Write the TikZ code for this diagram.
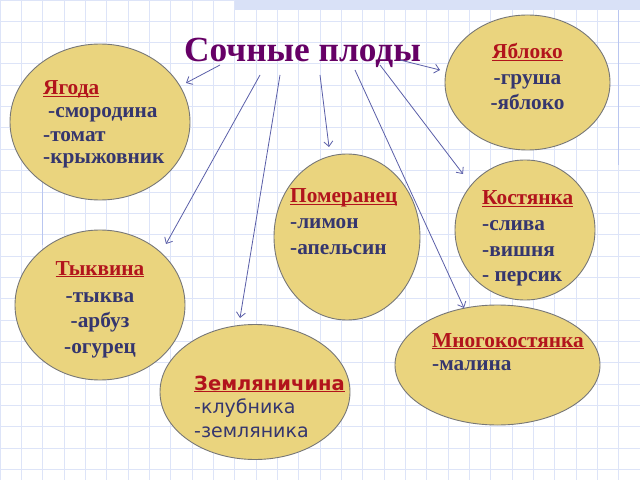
\documentclass[tikz,border=0pt]{standalone}
\usepackage{fontspec}
\setmainfont{Liberation Serif}
\newfontfamily\sansfam{DejaVu Sans}
\usetikzlibrary{shapes.geometric,arrows.meta}
\definecolor{ellfill}{HTML}{EAD47E}
\definecolor{ellline}{HTML}{777777}
\definecolor{navy}{HTML}{35366E}
\definecolor{hdred}{HTML}{B2141C}
\definecolor{titlec}{HTML}{660066}
\definecolor{gridc}{HTML}{DDE4F8}
\definecolor{gridd}{HTML}{B9C6F0}
\definecolor{stripc}{HTML}{D9E1F7}
\definecolor{arrc}{HTML}{5A5EA8}
\newcommand{\hdline}[1]{\setbox0\hbox{#1}\rlap{\rule[-2.2bp]{\wd0}{1.3bp}}\box0}
\tikzset{
  fruit/.style={ellipse, draw=ellline, fill=ellfill, line width=0.9bp, inner sep=0pt},
  bodyt/.style={font=\bfseries\fontsize{21.3bp}{25bp}\selectfont, text=navy, inner sep=0pt, anchor=base west},
  headt/.style={bodyt, text=hdred},
  bodyc/.style={bodyt, anchor=base},
  headc/.style={headt, anchor=base},
  sbody/.style={font=\sansfam\fontsize{19bp}{22bp}\selectfont, text=navy, inner sep=0pt, anchor=base west},
  shead/.style={sbody, font=\sansfam\bfseries\fontsize{19.5bp}{22bp}\selectfont, text=hdred},
  link/.style={draw=arrc, line width=0.8bp, -{Straight Barb[length=5bp,width=9bp]}},
}
\begin{document}
\begin{tikzpicture}[x=1bp,y=-1bp]
\useasboundingbox (0,0) rectangle (640,480);
\fill[white] (0,0) rectangle (640,480);
% grid paper
\draw[gridc, line width=1bp, step=21.3333bp] (0,0) grid (640,480);
\draw[gridd, line width=1.5bp] (42.67,165) -- (42.67,245);
\draw[gridd, line width=1.5bp] (618.67,0) -- (618.67,165);
\fill[stripc] (235,0) rectangle (640,10);
% ellipses
\node[fruit, minimum width=180bp, minimum height=156bp] (yag) at (100,122) {};
\node[fruit, minimum width=165bp, minimum height=135bp] (yab) at (527.5,82.5) {};
\node[fruit, minimum width=146bp, minimum height=166bp] (pom) at (347,237) {};
\node[fruit, minimum width=140bp, minimum height=140bp] (kos) at (525,230) {};
\node[fruit, minimum width=170bp, minimum height=150bp] (tyk) at (100,305) {};
\node[fruit, minimum width=190bp, minimum height=135bp] (zem) at (255,392) {};
\node[fruit, minimum width=205bp, minimum height=120bp] (mno) at (497.5,365) {};
% title
\node[font=\bfseries\fontsize{35.3bp}{40bp}\selectfont, text=titlec, inner sep=0pt, anchor=base] (title) at (302.5,62) {Сочные плоды};
% texts
\node[headt] (yag0) at (43,95) {\hdline{Ягода}};
\node[bodyt] (yag1) at (48,118) {-смородина};
\node[bodyt] (yag2) at (43,142) {-томат};
\node[bodyt] (yag3) at (43,164) {-крыжовник};
\node[headc] (yab0) at (527.5,59) {\hdline{Яблоко}};
\node[bodyc] (yab1) at (527.5,85) {-груша};
\node[bodyc] (yab2) at (527.5,110) {-яблоко};
\node[headt] (pom0) at (290,203) {\hdline{Померанец}};
\node[bodyt] (pom1) at (290,229) {-лимон};
\node[bodyt] (pom2) at (290,255) {-апельсин};
\node[headt] (kos0) at (482,205) {\hdline{Костянка}};
\node[bodyt] (kos1) at (482,231) {-слива};
\node[bodyt] (kos2) at (482,256) {-вишня};
\node[bodyt] (kos3) at (482,281) {- персик};
\node[headc] (tyk0) at (100,275) {\hdline{Тыквина}};
\node[bodyc] (tyk1) at (100,302) {-тыква};
\node[bodyc] (tyk2) at (100,327) {-арбуз};
\node[bodyc] (tyk3) at (100,353) {-огурец};
\node[shead] (zem0) at (194,390) {\hdline{Земляничина}};
\node[sbody] (zem1) at (194,413) {-клубника};
\node[sbody] (zem2) at (194,437) {-земляника};
\node[headt] (mno0) at (432,347) {\hdline{Многокостянка}};
\node[bodyt] (mno1) at (432,370) {-малина};
% connectors
\coordinate (s1) at (220,65);  \coordinate (e1) at (186,83);
\coordinate (s2) at (400,60);  \coordinate (e2) at (440,70);
\coordinate (s3) at (260,75);  \coordinate (e3) at (166,244);
\coordinate (s4) at (280,75);  \coordinate (e4) at (240,318);
\coordinate (s5) at (320,75);  \coordinate (e5) at (329,147);
\coordinate (s6) at (355,70);  \coordinate (e6) at (464,308);
\coordinate (s7) at (380,65);  \coordinate (e7) at (463,174);
\draw[link] (s1) -- (e1);
\draw[link] (s2) -- (e2);
\draw[link] (s3) -- (e3);
\draw[link] (s4) -- (e4);
\draw[link] (s5) -- (e5);
\draw[link] (s6) -- (e6);
\draw[link] (s7) -- (e7);
\end{tikzpicture}
\end{document}
